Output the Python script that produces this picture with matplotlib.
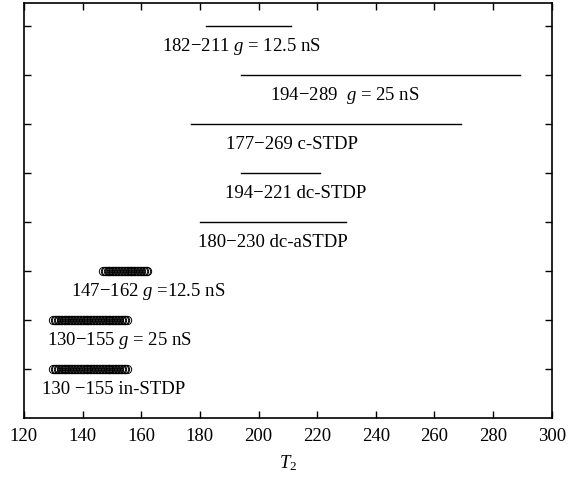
import matplotlib
matplotlib.use('Agg')
import matplotlib.pyplot as plt

plt.rcParams['font.family'] = ['Liberation Serif', 'DejaVu Serif']
plt.rcParams['mathtext.fontset'] = 'custom'
plt.rcParams['mathtext.rm'] = 'Liberation Serif'
plt.rcParams['mathtext.it'] = 'Liberation Serif:italic'

# line segments (start, end, row)
seg_start = [182, 194, 177, 194, 180]
seg_end = [211, 289, 269, 221, 230]
seg_row = [8, 7, 6, 5, 4]
seg_labels = ['182\u2212211 $g$ = 12.5 nS', '194\u2212289  $g$ = 25 nS', '177\u2212269 c-STDP',
              '194\u2212221 dc-STDP', '180\u2212230 dc-aSTDP']
seg_label_x = [167.0, 204.0, 189.0, 188.5, 179.5]

# circle runs (dense, half-unit spacing as in the figure)
circ_row = [3, 2, 1]
circ_vals = [
    [147, 147.5, 148, 148.5, 149, 149.5, 150, 150.5, 151, 151.5, 152, 152.5, 153, 153.5,
     154, 154.5, 155, 155.5, 156, 156.5, 157, 157.5, 158, 158.5, 159, 159.5, 160, 160.5,
     161, 161.5, 162],
    [130, 130.5, 131, 131.5, 132, 132.5, 133, 133.5, 134, 134.5, 135, 135.5, 136, 136.5,
     137, 137.5, 138, 138.5, 139, 139.5, 140, 140.5, 141, 141.5, 142, 142.5, 143, 143.5,
     144, 144.5, 145, 145.5, 146, 146.5, 147, 147.5, 148, 148.5, 149, 149.5, 150, 150.5,
     151, 151.5, 152, 152.5, 153, 153.5, 154, 154.5, 155],
    [130, 130.5, 131, 131.5, 132, 132.5, 133, 133.5, 134, 134.5, 135, 135.5, 136, 136.5,
     137, 137.5, 138, 138.5, 139, 139.5, 140, 140.5, 141, 141.5, 142, 142.5, 143, 143.5,
     144, 144.5, 145, 145.5, 146, 146.5, 147, 147.5, 148, 148.5, 149, 149.5, 150, 150.5,
     151, 151.5, 152, 152.5, 153, 153.5, 154, 154.5, 155],
]
circ_labels = ['147\u2212162 $g$ =12.5 nS', '130\u2212155 $g$ = 25 nS', '130 \u2212155 in-STDP']
circ_label_x = [136.2, 128.0, 126.3]

fig = plt.figure(figsize=(5.7, 4.8), dpi=100)
ax = fig.add_axes([0.042, 0.129, 0.926, 0.865])

for s, e, r, lab, lx in zip(seg_start, seg_end, seg_row, seg_labels, seg_label_x):
    ax.plot([s, e], [r, r], color='black', linewidth=1.0)
    ax.text(lx, r - 0.41, lab, fontsize=13.5, ha='left', va='center')

for vals, r, lab, lx in zip(circ_vals, circ_row, circ_labels, circ_label_x):
    ax.plot(vals, [r] * len(vals), linestyle='none', marker='o', markersize=6,
            markerfacecolor='none', markeredgecolor='black', markeredgewidth=0.7)
    ax.text(lx, r - 0.41, lab, fontsize=13.5, ha='left', va='center')

ax.set_xlim(120, 300)
ax.set_ylim(0, 8.47)
ax.set_xticks(range(120, 301, 20))
ax.set_yticks(range(1, 9))
ax.set_yticklabels([])
ax.tick_params(direction='in', top=True, right=True, length=5, width=1, labelsize=13.5)
ax.tick_params(axis='x', pad=7)
for sp in ax.spines.values():
    sp.set_linewidth(1.2)
ax.set_xlabel('$T_2$', fontsize=13.5, labelpad=6)

plt.savefig('out.png', dpi=100)
